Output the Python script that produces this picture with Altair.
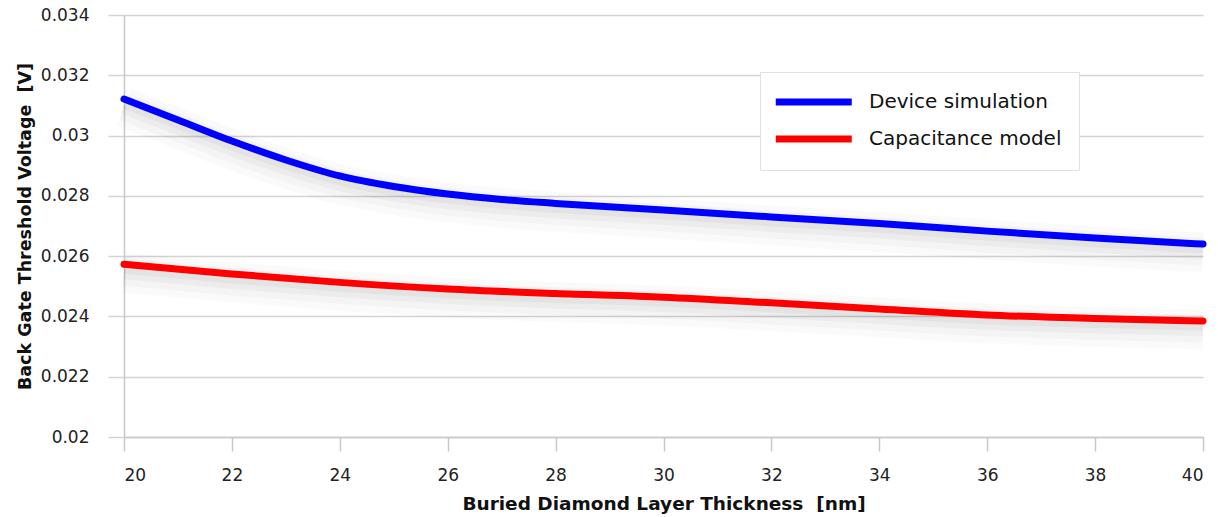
import altair as alt
import pandas as pd

# Back-gate threshold voltage vs. buried diamond layer thickness
thickness_sim = [20, 21, 22, 23, 24, 25, 26, 27, 28, 30, 32, 34, 36, 38, 40]
device_simulation = [0.03121, 0.03052, 0.02982, 0.02919, 0.02866, 0.02831, 0.02806,
                     0.02788, 0.02775, 0.02753, 0.02730, 0.02708, 0.02683, 0.02660, 0.02640]

thickness_model = [20, 22, 24, 26, 28, 30, 32, 34, 36, 38, 40]
capacitance_model = [0.02573, 0.02541, 0.02513, 0.02491, 0.02476, 0.02464,
                     0.02445, 0.02425, 0.02405, 0.02393, 0.02385]

series_names = ["Device simulation", "Capacitance model"]
series_colors = ["#0000ff", "#ff0000"]

x_ticks = list(range(20, 41, 2))
y_ticks = [0.020, 0.022, 0.024, 0.026, 0.028, 0.030, 0.032, 0.034]

df = pd.concat([
    pd.DataFrame({"thickness": thickness_sim, "vth": device_simulation, "series": series_names[0]}),
    pd.DataFrame({"thickness": thickness_model, "vth": capacitance_model, "series": series_names[1]}),
])

FONT = "DejaVu Sans"

x_enc = alt.X("thickness:Q",
              scale=alt.Scale(domain=[20, 40], nice=False),
              axis=alt.Axis(values=x_ticks, title="Buried Diamond Layer Thickness\u00a0 [nm]",
                            grid=False, tickSize=14, labelPadding=16, titlePadding=11,
                            domainColor="#c8c8c8", tickColor="#c8c8c8", tickWidth=1.5,
                            domainWidth=1.5))

y_scale = alt.Scale(domain=[0.020, 0.034], nice=False)

base = alt.Chart(df)


def shadow(width, opacity, drop):
    # blurred-looking shadow: a wide translucent stroke a little below the curve
    return base.transform_calculate(vs=f"datum.vth - {drop}").mark_line(
        strokeWidth=width, opacity=opacity, interpolate="monotone", color="#000000"
    ).encode(x=x_enc, y=alt.Y("vs:Q", scale=y_scale), detail="series:N")


shadows = [shadow(40, 0.018, 0.00028), shadow(28, 0.025, 0.00025),
           shadow(18, 0.03, 0.0002), shadow(10, 0.035, 0.00015)]

lines = base.mark_line(strokeWidth=7, strokeCap="round", interpolate="monotone").encode(
    x=x_enc,
    y=alt.Y("vth:Q", scale=y_scale,
            axis=alt.Axis(values=y_ticks, format="~g",
                          title="Back Gate Threshold Voltage\u00a0 [V]",
                          grid=True, gridColor="#d4d4d4", gridWidth=1.5,
                          tickSize=16, tickColor="#d4d4d4", tickWidth=1.5,
                          domainColor="#c8c8c8", domainWidth=1.5,
                          labelPadding=19, titlePadding=6)),
    color=alt.Color("series:N",
                    scale=alt.Scale(domain=series_names, range=series_colors),
                    sort=series_names,
                    legend=alt.Legend(title=None, orient="none", legendX=636, legendY=57,
                                      fillColor="#ffffff", strokeColor="#e2e2e2",
                                      padding=17, symbolType="M-1.5,0H6.5", symbolSize=361,
                                      symbolStrokeWidth=7, labelFontSize=20, labelFont=FONT,
                                      labelColor="#111111", labelOffset=66, labelLimit=400,
                                      rowPadding=9)),
)

chart = alt.layer(*shadows, lines).properties(
    width=1079, height=422,
    autosize=alt.AutoSizeParams(type="none"),
    padding={"left": 124, "top": 15, "right": 15, "bottom": 80},
    background="#ffffff",
).configure_view(stroke=None).configure_axis(
    labelFont=FONT, labelFontSize=17, labelColor="#222222",
    titleFont=FONT, titleFontWeight="bold", titleColor="#111111",
).configure_axisX(titleFontSize=18.5).configure_axisY(titleFontSize=17.5)

chart.save("out.html", embed_options={"renderer": "svg", "actions": False})
